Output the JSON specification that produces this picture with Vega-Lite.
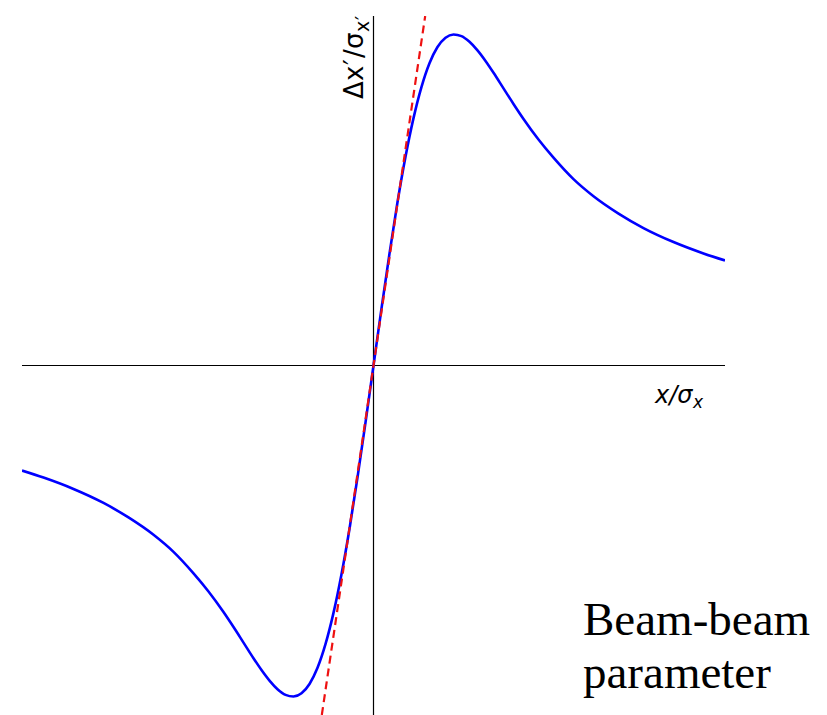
{
  "$schema": "https://vega.github.io/schema/vega-lite/v6.json",
  "width": 703,
  "height": 699,
  "autosize": {"type": "none"},
  "padding": {"left": 22, "top": 16, "right": 102, "bottom": 0},
  "background": "white",
  "config": {"view": {"stroke": null}},
  "data": {"values": [{}]},
  "datasets": {
    "kick": [
      {"x": -6.800, "y": -0.203},
      {"x": -6.384, "y": -0.2165},
      {"x": -5.804, "y": -0.2385},
      {"x": -5.223, "y": -0.2655},
      {"x": -4.740, "y": -0.2935},
      {"x": -4.256, "y": -0.327},
      {"x": -3.869, "y": -0.360},
      {"x": -3.482, "y": -0.4015},
      {"x": -3.192, "y": -0.4365},
      {"x": -2.902, "y": -0.4762},
      {"x": -2.708, "y": -0.5052},
      {"x": -2.515, "y": -0.5352},
      {"x": -2.322, "y": -0.5653},
      {"x": -2.167, "y": -0.5881},
      {"x": -2.012, "y": -0.6085},
      {"x": -1.857, "y": -0.6251},
      {"x": -1.702, "y": -0.6362},
      {"x": -1.548, "y": -0.6394},
      {"x": -1.393, "y": -0.6331},
      {"x": -1.238, "y": -0.6151},
      {"x": -1.083, "y": -0.5838},
      {"x": -0.929, "y": -0.5382},
      {"x": -0.774, "y": -0.4778},
      {"x": -0.619, "y": -0.4031},
      {"x": -0.464, "y": -0.3152},
      {"x": -0.310, "y": -0.2165},
      {"x": -0.155, "y": -0.1103},
      {"x": 0.000, "y": 0.0},
      {"x": 0.155, "y": 0.1103},
      {"x": 0.310, "y": 0.2165},
      {"x": 0.464, "y": 0.3152},
      {"x": 0.619, "y": 0.4031},
      {"x": 0.774, "y": 0.4778},
      {"x": 0.929, "y": 0.5382},
      {"x": 1.083, "y": 0.5838},
      {"x": 1.238, "y": 0.6151},
      {"x": 1.393, "y": 0.6331},
      {"x": 1.548, "y": 0.6394},
      {"x": 1.702, "y": 0.6362},
      {"x": 1.857, "y": 0.6251},
      {"x": 2.012, "y": 0.6085},
      {"x": 2.167, "y": 0.5881},
      {"x": 2.322, "y": 0.5653},
      {"x": 2.515, "y": 0.5352},
      {"x": 2.708, "y": 0.5052},
      {"x": 2.902, "y": 0.4762},
      {"x": 3.192, "y": 0.4365},
      {"x": 3.482, "y": 0.4015},
      {"x": 3.869, "y": 0.360},
      {"x": 4.256, "y": 0.327},
      {"x": 4.740, "y": 0.2935},
      {"x": 5.223, "y": 0.2655},
      {"x": 5.804, "y": 0.2385},
      {"x": 6.384, "y": 0.2165},
      {"x": 6.800, "y": 0.203}
    ],
    "linear": [
      {"x": -1.0, "y": -0.675},
      {"x": 1.0, "y": 0.675}
    ],
    "axes": [
      {"x": -6.8, "x2": 6.8, "y": 0, "y2": 0},
      {"x": 0, "x2": 0, "y": -0.675, "y2": 0.675}
    ],
    "ylabel": [
      {"part": "Δ", "style": "normal", "size": 26, "x": -0.2031, "y": 0.5147},
      {"part": "x", "style": "italic", "size": 26, "x": -0.2031, "y": 0.5494},
      {"part": "′", "style": "normal", "size": 26, "x": -0.2031, "y": 0.5803},
      {"part": "/", "style": "italic", "size": 26, "x": -0.2031, "y": 0.5939},
      {"part": "σ", "style": "italic", "size": 26, "x": -0.2031, "y": 0.6112},
      {"part": "x", "style": "italic", "size": 19, "x": -0.090, "y": 0.6441},
      {"part": "′", "style": "normal", "size": 19, "x": -0.090, "y": 0.6673}
    ]
  },
  "layer": [
    {
      "data": {"name": "axes"},
      "mark": {"type": "rule", "color": "black", "strokeWidth": 1.2},
      "encoding": {
        "x": {"field": "x", "type": "quantitative", "axis": null, "scale": {"domain": [-6.8, 6.8], "nice": false, "zero": false}},
        "x2": {"field": "x2"},
        "y": {"field": "y", "type": "quantitative", "axis": null, "scale": {"domain": [-0.675, 0.675], "nice": false, "zero": false}},
        "y2": {"field": "y2"}
      }
    },
    {
      "data": {"name": "kick"},
      "mark": {"type": "line", "color": "#0000ff", "strokeWidth": 2.6, "interpolate": "monotone", "clip": true},
      "encoding": {
        "x": {"field": "x", "type": "quantitative", "axis": null, "scale": {"domain": [-6.8, 6.8], "nice": false, "zero": false}},
        "y": {"field": "y", "type": "quantitative", "axis": null, "scale": {"domain": [-0.675, 0.675], "nice": false, "zero": false}}
      }
    },
    {
      "data": {"name": "linear"},
      "mark": {"type": "line", "color": "#ee1111", "strokeWidth": 2.2, "strokeDash": [8, 5], "clip": true},
      "encoding": {
        "x": {"field": "x", "type": "quantitative", "axis": null, "scale": {"domain": [-6.8, 6.8], "nice": false, "zero": false}},
        "y": {"field": "y", "type": "quantitative", "axis": null, "scale": {"domain": [-0.675, 0.675], "nice": false, "zero": false}}
      }
    },
    {
      "data": {"name": "ylabel"},
      "mark": {"type": "text", "font": "DejaVu Sans", "angle": 270, "align": "left", "baseline": "alphabetic", "color": "black", "clip": false},
      "encoding": {
        "x": {"field": "x", "type": "quantitative", "axis": null, "scale": {"domain": [-6.8, 6.8], "nice": false, "zero": false}},
        "y": {"field": "y", "type": "quantitative", "axis": null, "scale": {"domain": [-0.675, 0.675], "nice": false, "zero": false}},
        "text": {"field": "part"},
        "fontStyle": {"field": "style", "scale": null},
        "size": {"field": "size", "type": "quantitative", "scale": null}
      }
    },
    {
      "mark": {"type": "text", "text": "x/σ", "font": "DejaVu Sans", "fontStyle": "italic", "fontSize": 24, "align": "left", "baseline": "alphabetic", "color": "black", "clip": false},
      "encoding": {
        "x": {"datum": 5.446, "type": "quantitative", "scale": {"domain": [-6.8, 6.8], "nice": false, "zero": false}},
        "y": {"datum": -0.0724, "type": "quantitative", "scale": {"domain": [-0.675, 0.675], "nice": false, "zero": false}}
      }
    },
    {
      "mark": {"type": "text", "text": "x", "font": "DejaVu Sans", "fontStyle": "italic", "fontSize": 17, "align": "left", "baseline": "alphabetic", "color": "black", "clip": false},
      "encoding": {
        "x": {"datum": 6.181, "type": "quantitative", "scale": {"domain": [-6.8, 6.8], "nice": false, "zero": false}},
        "y": {"datum": -0.0821, "type": "quantitative", "scale": {"domain": [-0.675, 0.675], "nice": false, "zero": false}}
      }
    },
    {
      "mark": {"type": "text", "text": "Beam-beam", "font": "Liberation Serif", "fontSize": 47, "align": "left", "baseline": "alphabetic", "color": "black", "clip": false},
      "encoding": {
        "x": {"datum": 4.053, "type": "quantitative", "scale": {"domain": [-6.8, 6.8], "nice": false, "zero": false}},
        "y": {"datum": -0.5205, "type": "quantitative", "scale": {"domain": [-0.675, 0.675], "nice": false, "zero": false}}
      }
    },
    {
      "mark": {"type": "text", "text": "parameter", "font": "Liberation Serif", "fontSize": 47, "align": "left", "baseline": "alphabetic", "color": "black", "clip": false},
      "encoding": {
        "x": {"datum": 4.053, "type": "quantitative", "scale": {"domain": [-6.8, 6.8], "nice": false, "zero": false}},
        "y": {"datum": -0.6228, "type": "quantitative", "scale": {"domain": [-0.675, 0.675], "nice": false, "zero": false}}
      }
    }
  ]
}
